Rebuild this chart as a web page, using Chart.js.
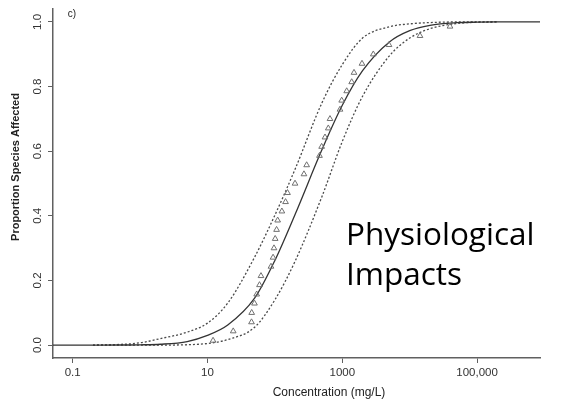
<!DOCTYPE html>
<html>
<head>
<meta charset="utf-8">
<script src="https://cdn.jsdelivr.net/npm/chart.js@4.4.1/dist/chart.umd.min.js"></script>
<style>
  html, body { margin: 0; padding: 0; background: #fff; }
  #wrap { width: 562px; height: 402px; position: relative; }
</style>
</head>
<body>
<div id="wrap"><canvas id="ssdChart"></canvas></div>
<script>
// fitted curves at these concentrations (mg/L)
var curveConc = [0.05, 0.1, 0.2, 0.5, 1, 2, 5, 10, 20, 50, 100, 200, 500, 1000, 2000, 5000, 10000, 20000, 50000, 100000, 200000, 500000, 860000];
var fitMid   = [0, 0, 0, 0.0002, 0.0008, 0.0026, 0.011, 0.03, 0.062, 0.145, 0.262, 0.405, 0.605, 0.742, 0.849, 0.938, 0.973, 0.9895, 0.9976, 0.9993, 1, 1, 1];
var fitUpper = [null, null, 0, 0.002, 0.007, 0.02, 0.04, 0.068, 0.13, 0.272, 0.402, 0.545, 0.75, 0.868, 0.95, 0.985, 0.994, 0.998, 1, 1, 1, null, null];
var fitLower = [null, null, 0, 0, 0, 0, 0.001, 0.005, 0.017, 0.055, 0.14, 0.26, 0.46, 0.63, 0.77, 0.895, 0.95, 0.979, 0.995, 0.999, 1, null, null];

// species toxicity values (triangles)
var speciesConc = [12.1, 24.1, 45.0, 45.3, 49.8, 53.7, 59.1, 62.2, 87.5, 94, 97, 101, 106, 110, 127, 144, 154, 199, 270, 296, 459, 494, 554, 620, 657, 925, 980, 1163, 1379, 1492, 1960, 2884, 4932, 14220, 39630];
var speciesProp = [0.014, 0.043, 0.071, 0.100, 0.129, 0.157, 0.186, 0.214, 0.243, 0.271, 0.300, 0.329, 0.357, 0.386, 0.414, 0.443, 0.471, 0.500, 0.529, 0.557, 0.586, 0.614, 0.643, 0.671, 0.700, 0.729, 0.757, 0.786, 0.814, 0.843, 0.871, 0.900, 0.929, 0.957, 0.986];

var xTickValues = [0.1, 10, 1000, 100000];
var xTickLabels = ['0.1', '10', '1000', '100,000'];
var yTickValues = [0, 0.2, 0.4, 0.6, 0.8, 1.0];
var yTickLabels = ['0.0', '0.2', '0.4', '0.6', '0.8', '1.0'];

var axisColor = '#606060';

function toPoints(xs, ys) {
  var out = [];
  for (var i = 0; i < xs.length; i++) {
    out.push({ x: xs[i], y: ys[i] });
  }
  return out;
}

// draws tick labels, axis titles and the annotation text
var textPlugin = {
  id: 'textPlugin',
  afterDraw: function (chart) {
    var ctx = chart.ctx;
    var xs = chart.scales.x;
    var ys = chart.scales.y;
    ctx.save();
    ctx.fillStyle = '#333';
    ctx.font = '11.5px "Liberation Sans", Arial, sans-serif';
    ctx.textAlign = 'center';
    ctx.textBaseline = 'middle';
    for (var i = 0; i < xTickValues.length; i++) {
      ctx.fillText(xTickLabels[i], xs.getPixelForValue(xTickValues[i]), 373);
    }
    for (var j = 0; j < yTickValues.length; j++) {
      ctx.save();
      ctx.translate(38, ys.getPixelForValue(yTickValues[j]));
      ctx.rotate(-Math.PI / 2);
      ctx.fillText(yTickLabels[j], 0, 0);
      ctx.restore();
    }
    ctx.fillStyle = '#222';
    ctx.font = '12px "Liberation Sans", Arial, sans-serif';
    ctx.fillText('Concentration (mg/L)', 329, 393);
    ctx.save();
    ctx.font = 'bold 11px "Liberation Sans", Arial, sans-serif';
    ctx.translate(16, 167);
    ctx.rotate(-Math.PI / 2);
    ctx.fillText('Proportion Species Affected', 0, 0);
    ctx.restore();
    ctx.font = '10px "Liberation Sans", Arial, sans-serif';
    ctx.fillText('c)', 72, 14);

    ctx.fillStyle = '#000';
    ctx.textAlign = 'left';
    ctx.textBaseline = 'alphabetic';
    ctx.font = '31.5px "Open Sans", Lato, sans-serif';
    ctx.fillText('Physiological', 346, 245);
    ctx.fillText('Impacts', 346, 285);
    ctx.restore();
  }
};

var ctxSsd = document.getElementById('ssdChart');
new Chart(ctxSsd, {
  type: 'line',
  data: {
    datasets: [
      {
        label: 'species',
        type: 'scatter',
        data: toPoints(speciesConc, speciesProp),
        pointStyle: 'triangle',
        pointRadius: 3.3,
        borderWidth: 1,
        borderColor: '#707070',
        backgroundColor: 'rgba(0,0,0,0)',
        showLine: false
      },
      {
        label: 'fit',
        data: toPoints(curveConc, fitMid),
        borderColor: '#333',
        borderWidth: 1.3,
        pointRadius: 0,
        cubicInterpolationMode: 'monotone'
      },
      {
        label: 'upper',
        data: toPoints(curveConc, fitUpper),
        borderColor: '#4a4a4a',
        borderWidth: 1.3,
        borderDash: [2, 2],
        pointRadius: 0,
        cubicInterpolationMode: 'monotone'
      },
      {
        label: 'lower',
        data: toPoints(curveConc, fitLower),
        borderColor: '#4a4a4a',
        borderWidth: 1.3,
        borderDash: [2, 2],
        pointRadius: 0,
        cubicInterpolationMode: 'monotone'
      }
    ]
  },
  options: {
    responsive: true,
    maintainAspectRatio: false,
    animation: false,
    layout: { padding: { left: 48, right: 22, top: 9, bottom: 39 } },
    plugins: {
      legend: { display: false },
      tooltip: { enabled: false }
    },
    scales: {
      x: {
        type: 'logarithmic',
        min: 0.0511,
        max: 857000,
        grid: { drawOnChartArea: false, drawTicks: true, tickLength: 5, color: axisColor },
        border: { display: true, color: axisColor, width: 1.5 },
        ticks: { display: false },
        afterBuildTicks: function (s) {
          s.ticks = xTickValues.map(function (v) { return { value: v }; });
        }
      },
      y: {
        type: 'linear',
        min: -0.04,
        max: 1.04,
        grid: { drawOnChartArea: false, drawTicks: true, tickLength: 5, color: axisColor },
        border: { display: true, color: axisColor, width: 1.5 },
        ticks: { display: false },
        afterBuildTicks: function (s) {
          s.ticks = yTickValues.map(function (v) { return { value: v }; });
        }
      }
    }
  },
  plugins: [textPlugin]
});
</script>
</body>
</html>
